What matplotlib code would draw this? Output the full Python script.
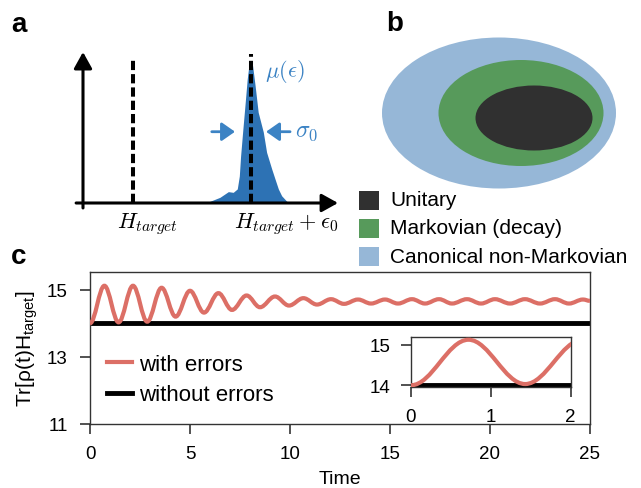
import numpy as np
import matplotlib
matplotlib.use('Agg')
import matplotlib.pyplot as plt
from matplotlib.path import Path
from matplotlib.patches import PathPatch, Ellipse, Rectangle
from matplotlib.lines import Line2D

plt.rcParams['font.family'] = ['Liberation Sans', 'DejaVu Sans']
plt.rcParams['mathtext.fontset'] = 'custom'
plt.rcParams['mathtext.rm'] = 'Liberation Sans'
plt.rcParams['mathtext.it'] = 'Liberation Sans:italic'
plt.rcParams['mathtext.bf'] = 'Liberation Sans:bold'

# ---------------- panel a data (schematic energy distribution) ----------------
h_target = 1.95
h_shifted = 6.58
dist_energy = [4.98, 5.37, 5.70, 5.89, 6.05, 6.13, 6.18, 6.26, 6.35, 6.44, 6.52, 6.58,
               6.65, 6.75, 6.87, 7.07, 7.20, 7.40, 7.53, 7.66, 7.79, 7.99, 8.10]
dist_density = [0.012, 0.04, 0.08, 0.075, 0.099, 0.19, 0.33, 0.50, 0.685, 0.873, 0.99, 1.0,
                0.967, 0.826, 0.639, 0.50, 0.357, 0.24, 0.169, 0.099, 0.051, 0.012, 0.0]

# ---------------- panel b data (nested sets) ----------------
region_labels = ['Unitary', 'Markovian (decay)', 'Canonical non-Markovian']
region_colors = ['#303030', '#579a5b', '#96b7d7']
ellipse_cx = [534, 521, 499]
ellipse_cy = [119, 114, 114]
ellipse_w = [117, 165, 234]
ellipse_h = [65, 106, 151]

# ---------------- panel c data (extrema of the oscillation) ----------------
ext_time = [0.0, 0.72, 1.43, 2.15, 2.86, 3.58, 4.28, 5.0, 5.7, 6.42, 7.1, 7.83, 8.5,
            9.25, 9.95, 10.67, 11.35, 12.05, 12.7, 13.4, 14.05, 14.75, 15.4, 16.1,
            16.75, 17.45, 18.1, 18.85, 19.55, 20.25, 21.0, 21.75, 22.5, 23.25, 23.95,
            24.65, 25.0]
ext_value = [14.0, 15.12, 14.03, 15.12, 14.05, 15.06, 14.2, 14.97, 14.32, 14.9, 14.4,
             14.83, 14.48, 14.8, 14.53, 14.75, 14.56, 14.72, 14.58, 14.71, 14.59, 14.71,
             14.59, 14.72, 14.59, 14.72, 14.59, 14.72, 14.59, 14.72, 14.59, 14.72, 14.59,
             14.72, 14.59, 14.71, 14.67]
const_time = [0, 25]
without_errors = [14.0, 14.0]

RED = '#dc6f66'
BLUE = '#2d72b4'
LBLUE = '#3c83c4'


def smooth_path(ts, ys, k=0.3642):
    verts = [(ts[0], ys[0])]
    codes = [Path.MOVETO]
    for i in range(len(ts) - 1):
        dt = ts[i + 1] - ts[i]
        verts += [(ts[i] + k * dt, ys[i]), (ts[i + 1] - k * dt, ys[i + 1]), (ts[i + 1], ys[i + 1])]
        codes += [Path.CURVE4] * 3
    return Path(verts, codes)


W, H = 641, 489
fig = plt.figure(figsize=(W / 100, H / 100), dpi=100)


def px_rect(x0, y0, x1, y1):
    return [x0 / W, 1 - y1 / H, (x1 - x0) / W, (y1 - y0) / H]

# ---------------- panel a ----------------
ax_a = fig.add_axes(px_rect(60, 40, 345, 240))
ax_a.set_xlim((60 - 83) / 25.5, (345 - 83) / 25.5)
ax_a.set_ylim((204 - 240) / 142, (204 - 40) / 142)
ax_a.axis('off')
ax_a.fill_between(dist_energy, dist_density, 0, color=BLUE, lw=0, zorder=2)
ax_a.annotate('', xy=(0, 1.063), xytext=(0, -0.035),
              arrowprops=dict(arrowstyle='-|>,head_length=0.45,head_width=0.25', color='k',
                              lw=2.2, mutation_scale=22, shrinkA=0, shrinkB=0), zorder=4)
ax_a.annotate('', xy=(10.0, 0), xytext=(-0.27, 0),
              arrowprops=dict(arrowstyle='-|>,head_length=0.45,head_width=0.25', color='k',
                              lw=2.2, mutation_scale=22, shrinkA=0, shrinkB=0), zorder=4)
ax_a.plot([h_target, h_target], [0, 1.02], color='k', lw=2.9, ls=(0, (2.3, 1.0)), zorder=3)
ax_a.plot([h_shifted, h_shifted], [0, 1.05], color='k', lw=2.9, ls=(0, (2.3, 1.0)), zorder=3)
ax_a.annotate('', xy=(5.96, 0.502), xytext=(5.05, 0.502),
              arrowprops=dict(arrowstyle='-|>,head_length=0.5,head_width=0.35', color=LBLUE,
                              lw=2.0, mutation_scale=16, shrinkA=0, shrinkB=0))
ax_a.annotate('', xy=(7.18, 0.502), xytext=(8.12, 0.502),
              arrowprops=dict(arrowstyle='-|>,head_length=0.5,head_width=0.35', color=LBLUE,
                              lw=2.0, mutation_scale=16, shrinkA=0, shrinkB=0))
ax_a.text(8.3, 0.51, r'$\sigma_0$', color=LBLUE, fontsize=17, va='center', ha='left',
          math_fontfamily='cm')
ax_a.text(7.15, 0.935, r'$\mu(\epsilon)$', color=LBLUE, fontsize=16, va='center', ha='left',
          math_fontfamily='cm')
ax_a.text(1.33, -0.05, r'$H_{target}$', fontsize=16, va='top', ha='left', math_fontfamily='cm')
ax_a.text(5.92, -0.05, r'$H_{target} + \epsilon_0$', fontsize=16, va='top', ha='left',
          math_fontfamily='cm')

# ---------------- panel b ----------------
ax_b = fig.add_axes(px_rect(350, 0, 641, 275))
ax_b.set_xlim(350, 641)
ax_b.set_ylim(275, 0)
ax_b.axis('off')
for i in [2, 1, 0]:
    ax_b.add_patch(Ellipse((ellipse_cx[i], ellipse_cy[i]), ellipse_w[i], ellipse_h[i],
                           facecolor=region_colors[i], edgecolor='none'))
leg_y = [201, 229, 257.5]
for i in range(3):
    ax_b.add_patch(Rectangle((359, leg_y[i] - 9.5), 20, 19, facecolor=region_colors[i],
                             edgecolor='none'))
    ax_b.text(390, leg_y[i], region_labels[i], fontsize=15, va='center', ha='left')

# ---------------- panel c ----------------
ax_c = fig.add_axes(px_rect(90, 273, 590, 425))
ax_c.plot(const_time, without_errors, color='k', lw=3.5, solid_capstyle='butt', zorder=2)
ax_c.add_patch(PathPatch(smooth_path(ext_time, ext_value), facecolor='none', edgecolor=RED,
                         lw=3.0, zorder=3))
ax_c.set_xlim(0, 25)
ax_c.set_ylim(11, 15.53)
ax_c.set_xticks([0, 5, 10, 15, 20, 25])
ax_c.set_yticks([11, 13, 15])
ax_c.tick_params(direction='out', length=7, width=1.1, labelsize=13.5, color='#222222')
ax_c.tick_params(axis='y', pad=9)
ax_c.tick_params(axis='x', pad=8)
for s in ax_c.spines.values():
    s.set_linewidth(1.0)
    s.set_color('#333333')
ax_c.set_xlabel('Time', fontsize=14, labelpad=6)
ax_c.set_ylabel(r'Tr[ρ(t)H$_{\mathrm{target}}$]', fontsize=15, labelpad=5)
handles = [Line2D([], [], color=RED, lw=3.0), Line2D([], [], color='k', lw=3.5)]
ax_c.legend(handles, ['with errors', 'without errors'], loc='upper left',
            bbox_to_anchor=(107 / W, 1 - 355 / H), bbox_transform=fig.transFigure,
            frameon=False, fontsize=16, handlelength=1.13, handletextpad=0.3,
            labelspacing=0.42, borderpad=0, borderaxespad=0)

# inset
ax_i = fig.add_axes(px_rect(411, 338.3, 570.7, 387.7))
ax_i.plot(const_time, without_errors, color='k', lw=3.5, solid_capstyle='butt', zorder=2)
ax_i.add_patch(PathPatch(smooth_path(ext_time, ext_value), facecolor='none', edgecolor=RED,
                         lw=3.0, zorder=3))
ax_i.set_xlim(0, 2)
ax_i.set_ylim(13.965, 15.18)
ax_i.set_xticks([0, 1, 2])
ax_i.set_yticks([14, 15])
ax_i.tick_params(direction='out', length=7, width=1.1, labelsize=13.5, color='#222222')
ax_i.tick_params(axis='y', pad=8)
ax_i.tick_params(axis='x', pad=8)
for s in ax_i.spines.values():
    s.set_linewidth(1.0)
    s.set_color('#333333')

# panel labels
fig.text(11 / W, 1 - 25 / H, 'a', fontsize=20, fontweight='bold', va='center', ha='left')
fig.text(386 / W, 1 - 24 / H, 'b', fontsize=20, fontweight='bold', va='center', ha='left')
fig.text(11 / W, 1 - 257 / H, 'c', fontsize=20, fontweight='bold', va='center', ha='left')

fig.savefig('out.png', dpi=100)
